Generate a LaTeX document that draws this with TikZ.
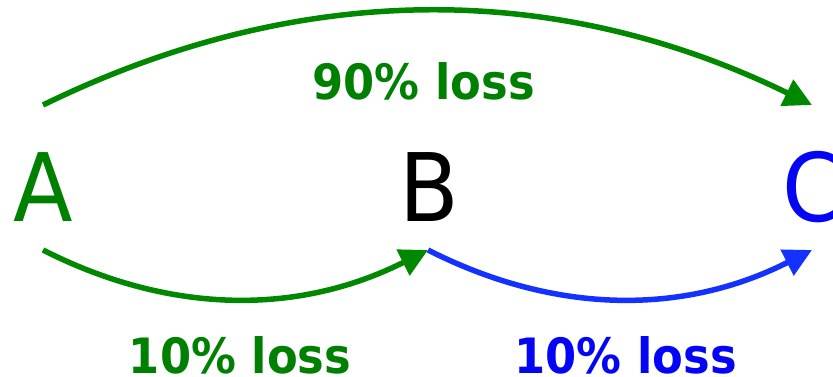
\documentclass[tikz,border=0pt]{standalone}
\usepackage{fontspec}
\newfontfamily\nf[FakeStretch=0.92]{DejaVu Sans}
\usetikzlibrary{arrows.meta}
\definecolor{garc}{RGB}{0,136,0}
\definecolor{gtxt}{RGB}{0,128,0}
\definecolor{barc}{RGB}{20,50,255}
\definecolor{btxt}{RGB}{5,5,245}
\tikzset{
  letter/.style={inner sep=0pt, anchor=base, font=\nf\fontsize{94.6}{100}\selectfont},
  lbl/.style={inner sep=0pt, anchor=base, font=\nf\bfseries\fontsize{48.7}{52}\selectfont},
  conn/.style={line width=5.5pt, -{Triangle[length=28pt,width=28pt]}},
}
\begin{document}
\begin{tikzpicture}[x=1pt,y=-1pt]
\useasboundingbox (0,0) rectangle (833,377);
\node[letter, text=gtxt] (A) at (43.5,221) {A};
\node[letter, text=black] (B) at (429,221) {B};
\node[letter, text=btxt] (C) at (813,221) {C};
\node[lbl, text=gtxt] (l90) at (423.5,100) {90\% loss};
\node[lbl, text=gtxt] (l10a) at (240,373) {10\% loss};
\node[lbl, text=btxt] (l10b) at (625.5,373) {10\% loss};
\coordinate (a1) at (43,105);
\coordinate (c1) at (812,105);
\coordinate (a2) at (43,250);
\coordinate (b2) at (428,250);
\coordinate (c2) at (812,250);
\draw[conn, garc] (a1) .. controls (299,-20) and (556,-20) .. (c1);
\draw[conn, garc] (a2) .. controls (171,315) and (299,315) .. (b2);
\draw[conn, barc] (b2) .. controls (556,315) and (684,315) .. (c2);
\end{tikzpicture}
\end{document}
